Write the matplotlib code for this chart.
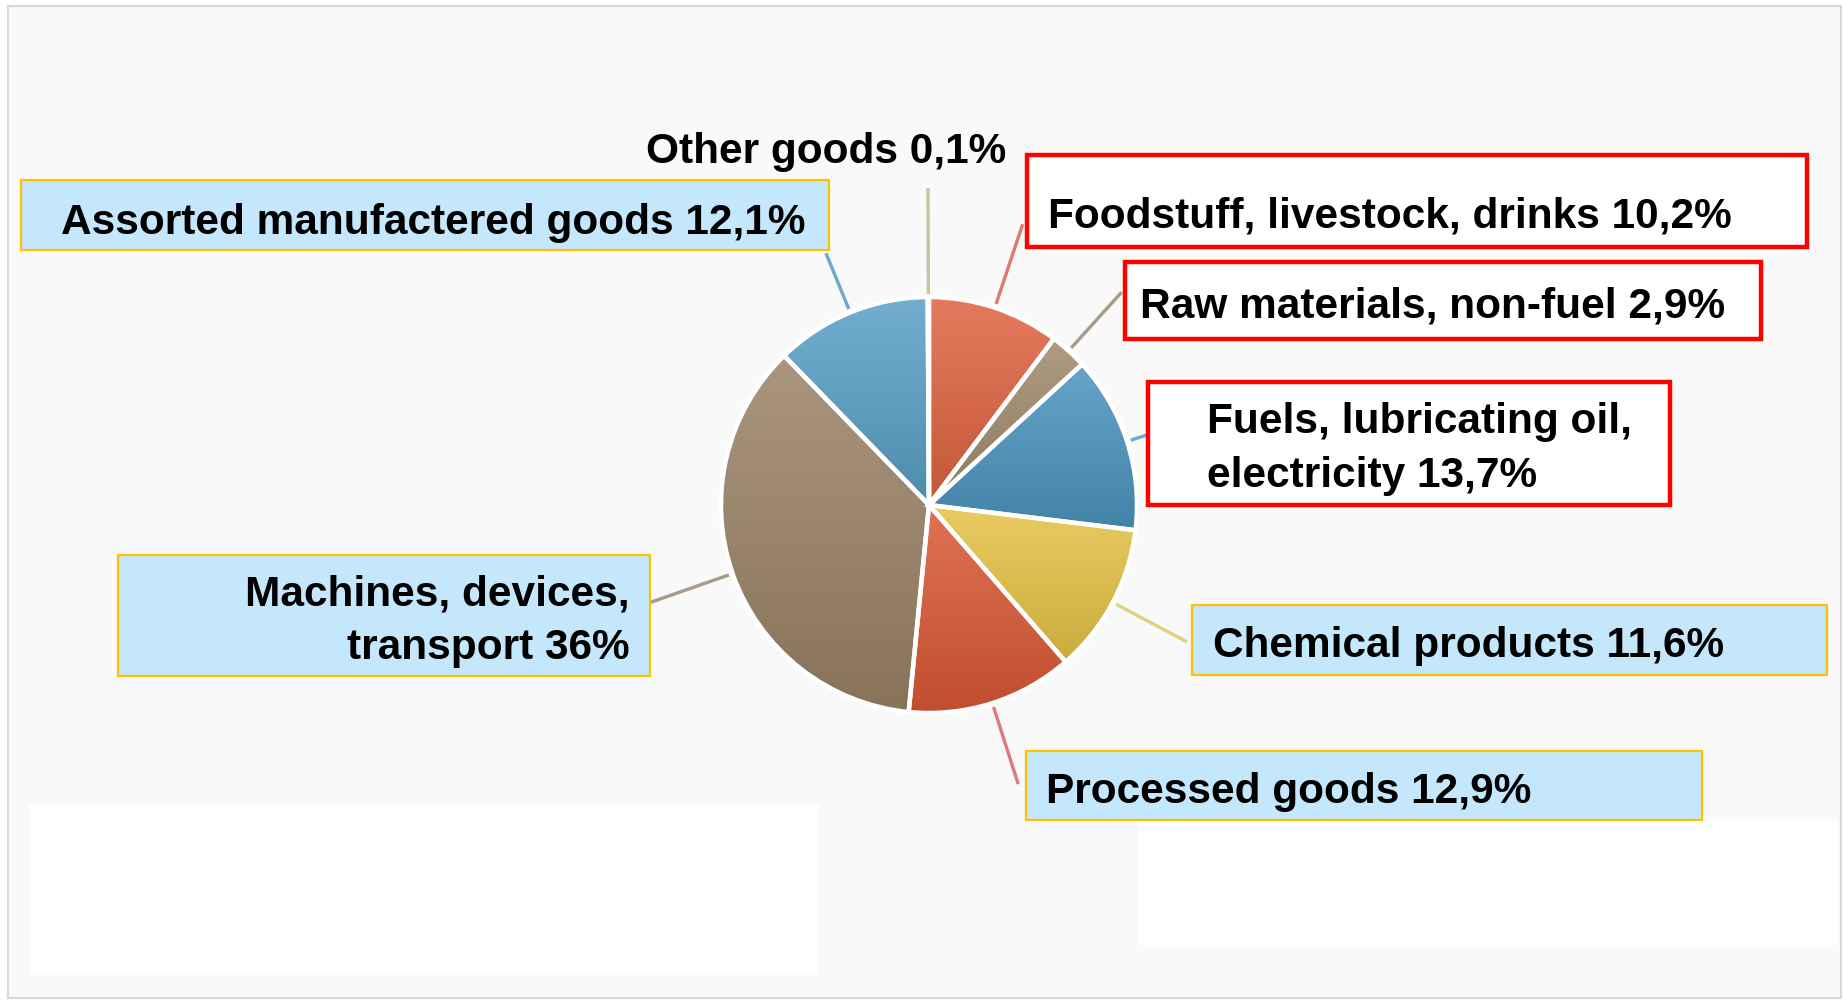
import numpy as np
import matplotlib
matplotlib.use("Agg")
import matplotlib.pyplot as plt
from matplotlib.patches import Rectangle, Wedge
from matplotlib.colors import LinearSegmentedColormap, to_rgb

# ---- data ----
categories = ["Foodstuff, livestock, drinks", "Raw materials, non-fuel",
              "Fuels, lubricating oil, electricity", "Chemical products",
              "Processed goods", "Machines, devices, transport",
              "Assorted manufactered goods", "Other goods"]
values = [10.2, 2.9, 13.7, 11.6, 12.9, 36.0, 12.1, 0.1]
labels = ["Foodstuff, livestock, drinks 10,2%",
          "Raw materials, non-fuel 2,9%",
          "Fuels, lubricating oil,\nelectricity 13,7%",
          "Chemical products 11,6%",
          "Processed goods 12,9%",
          "Machines, devices,\ntransport 36%",
          "Assorted manufactered goods 12,1%",
          "Other goods 0,1%"]
colors = ["#E0623F", "#A08A6C", "#4A94BE", "#E6C244", "#DA5834", "#9A8266", "#589FC6", "#B8BE9A"]
line_colors = ["#E07A6E", "#A89A86", "#6AAACC", "#DDD27E", "#E07A7A", "#A89A86", "#6AAACC", "#C4C6A0"]

W, H = 1843, 1001
fig = plt.figure(figsize=(W / 100, H / 100), dpi=100)
fig.patch.set_facecolor("white")
ax = fig.add_axes([0, 0, 1, 1])

def Y(y):
    return H - y

# ---- pie ----
cx, cy, r = 929, Y(505), 208
wedges, _ = ax.pie(values, colors=colors, startangle=90, counterclock=False,
                   center=(cx, cy), radius=r, frame=True,
                   wedgeprops=dict(edgecolor="none", linewidth=0))
ax.set_xlim(0, W)
ax.set_ylim(0, H)
ax.set_aspect("equal")
ax.axis("off")

# background
ax.add_patch(Rectangle((8, Y(998)), W - 10, 992, facecolor="#F9F9F9", edgecolor="#D8D8D8", lw=1.5, zorder=0))
ax.add_patch(Rectangle((29, Y(975)), 790, 170, facecolor="white", edgecolor="none", zorder=0.5))
ax.add_patch(Rectangle((1138, Y(945)), 700, 125, facecolor="white", edgecolor="none", zorder=0.5))

grad = np.linspace(0, 1, 256).reshape(-1, 1)
for w, c in zip(wedges, colors):
    base = np.array(to_rgb(c))
    light = base + (1 - base) * 0.16
    dark = base * 0.88
    cmap = LinearSegmentedColormap.from_list("g", [light, dark])
    ext = w.get_path().transformed(w.get_patch_transform()).get_extents()
    im = ax.imshow(grad, cmap=cmap, extent=[ext.x0 - 2, ext.x1 + 2, ext.y0 - 2, ext.y1 + 2],
                   origin="upper", zorder=1.5, aspect="auto", interpolation="bilinear")
    im.set_clip_path(w)
    w.set_zorder(1)
    ax.add_patch(Wedge((cx, cy), r, w.theta1, w.theta2, fill=False,
                       edgecolor="white", lw=3.2, zorder=2))
ax.set_xlim(0, W)
ax.set_ylim(0, H)

# leader lines (radial from slice mid-angle)
r_in = [212, 212, 212, 212, 212, 212, 212, 211]
r_out = [296, 287, 271, 292, 293, 295, 272, 317]
total = sum(values)
cum = 0
for i, v in enumerate(values):
    mid = 90 - 360 * (cum + v / 2) / total
    cum += v
    a = np.deg2rad(mid)
    ax.plot([cx + r_in[i] * np.cos(a), cx + r_out[i] * np.cos(a)],
            [cy + r_in[i] * np.sin(a), cy + r_out[i] * np.sin(a)],
            color=line_colors[i], lw=2.4, zorder=0.8, solid_capstyle="butt")

# ---- label boxes ----
FONT = ["Liberation Sans", "DejaVu Sans"]
FS = 30.5
BLUE, GOLD, RED = "#C4E7FB", "#FFC000", "#FF0000"
DY = 4

def box(x0, y0, x1, y1, fc, ec, lw):
    ax.add_patch(Rectangle((x0, Y(y1)), x1 - x0, y1 - y0, facecolor=fc, edgecolor=ec, lw=lw, zorder=3))

def txt(x, y, s, ha="left"):
    ax.text(x, Y(y + DY), s, ha=ha, va="center", fontsize=FS, fontweight="bold",
            family=FONT, color="black", zorder=4, linespacing=1.45, multialignment=ha)

# Foodstuff
box(1027, 155, 1807, 247, "white", RED, 3.2)
txt(1048, 213, labels[0])
# Raw materials
box(1125, 262, 1761, 339, "white", RED, 3.2)
txt(1140, 303, labels[1])
# Fuels
box(1148, 382, 1670, 505, "white", RED, 3.2)
txt(1207, 445, labels[2])
# Chemical
box(1192, 605, 1827, 675, BLUE, GOLD, 1.6)
txt(1213, 642, labels[3])
# Processed
box(1026, 751, 1702, 820, BLUE, GOLD, 1.6)
txt(1046, 788, labels[4])
# Machines
box(118, 555, 650, 676, BLUE, GOLD, 1.6)
txt(630, 617, labels[5], ha="right")
# Assorted
box(21, 180, 829, 250, BLUE, GOLD, 1.6)
txt(61, 219, labels[6])
# Other
txt(646, 148, labels[7])

fig.savefig("out.png", dpi=100, facecolor=fig.get_facecolor())
